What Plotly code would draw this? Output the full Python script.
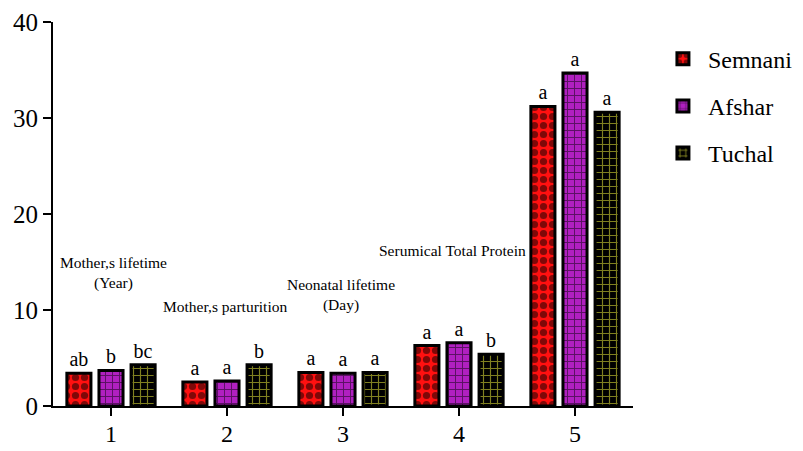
import plotly.graph_objects as go

categories = [1, 2, 3, 4, 5]
semnani = [3.4, 2.5, 3.5, 6.3, 31.2]
afshar = [3.7, 2.6, 3.4, 6.6, 34.7]
tuchal = [4.3, 4.3, 3.5, 5.4, 30.6]
semnani_letters = ["ab", "a", "a", "a", "a"]
afshar_letters = ["b", "a", "a", "a", "a"]
tuchal_letters = ["bc", "b", "a", "b", "a"]
group_labels = ["Mother,s lifetime<br>(Year)", "Mother,s parturition",
                "Neonatal lifetime<br>(Day)", "Serumical Total Protein", "Occurence of FPT"]
label_y = [13.85, 10.4, 11.55, 16.25, 40.5]
label_x = [1.02, 1.98, 2.98, 3.94, 4.97]

FONT = "Times New Roman, Liberation Serif, serif"

fig = go.Figure()
series = [
    ("Semnani", semnani, semnani_letters, dict(shape=".", fgcolor="black", bgcolor="#ff1010", size=9, solidity=0.5)),
    ("Afshar", afshar, afshar_letters, dict(shape="+", fgcolor="black", bgcolor="#b020c0", size=7, solidity=0.25)),
    ("Tuchal", tuchal, tuchal_letters, dict(shape="+", fgcolor="#ffff40", bgcolor="black", size=7, solidity=0.3)),
]
for name, vals, letters, pat in series:
    fig.add_trace(go.Bar(
        x=categories, y=vals, name=name, legendgroup=name,
        text=letters, textposition="outside",
        textfont=dict(family=FONT, size=20, color="black"),
        cliponaxis=False,
        marker=dict(color=pat["bgcolor"], line=dict(color="black", width=3), pattern=pat),
    ))

for x, y, t in zip(label_x, label_y, group_labels):
    fig.add_annotation(x=x, y=y, text=t, showarrow=False, yanchor="middle",
                       font=dict(family=FONT, size=15.5, color="black"))

fig.update_layout(
    width=795, height=443,
    margin=dict(l=45, r=170, t=14, b=45, autoexpand=False),
    plot_bgcolor="white", paper_bgcolor="white",
    barmode="group", bargap=0.17, bargroupgap=0.25,
    font=dict(family=FONT, color="black"),
    showlegend=True,
    legend=dict(x=1.043, y=0.962, xanchor="left", yanchor="top",
                font=dict(family=FONT, size=24, color="black"),
                tracegroupgap=13, traceorder="grouped", itemwidth=40),
    xaxis=dict(range=[0.5, 5.5], tickvals=categories, ticktext=[str(c) for c in categories],
               showline=True, linecolor="black", linewidth=2, ticks="outside",
               ticklen=8, tickwidth=2, tickcolor="black", showgrid=False, zeroline=False,
               automargin=False, ticklabelstandoff=-3,
               tickfont=dict(family=FONT, size=24, color="black")),
    yaxis=dict(range=[0, 40], tickvals=[0, 10, 20, 30, 40],
               showline=True, linecolor="black", linewidth=2, ticks="outside",
               ticklen=8, tickwidth=2, tickcolor="black", showgrid=False, zeroline=False,
               automargin=False,
               tickfont=dict(family=FONT, size=25, color="black")),
)

fig.write_html("out.html")
